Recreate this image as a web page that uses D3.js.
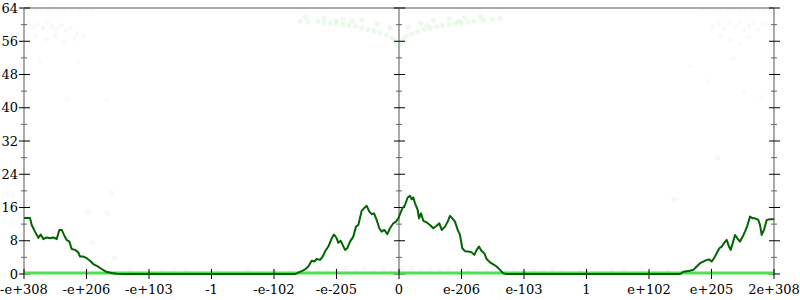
<!DOCTYPE html>
<html>
<head>
<meta charset="utf-8">
<script src="https://cdn.jsdelivr.net/npm/d3@7"></script>
<style>
  body { margin: 0; background: #fff; }
  text { font-family: "DejaVu Serif", serif; font-size: 13px; fill: #000; }
</style>
</head>
<body>
<div id="chart"></div>
<script>
// x positions are in "tick steps" along the ordered doubles axis
var xTickPos = d3.range(-6, 7);
var xTickLabels = ["-e+308", "-e+206", "-e+103", "-1", "-e-102", "-e-205", "0",
                   "e-206", "e-103", "1", "e+102", "e+205", "2e+308"];
var yMajor = [0, 8, 16, 24, 32, 40, 48, 56, 64];
var yMinor = [4, 12, 20, 28, 36, 44, 52, 60];

// main curve
var curveX = [-6.0, -5.904, -5.877, -5.824, -5.771, -5.733, -5.691, -5.637, -5.584, -5.531,
  -5.477, -5.435, -5.397, -5.36, -5.317, -5.275, -5.237, -5.184, -5.131, -5.104,
  -5.051, -4.997, -4.944, -4.891, -4.827, -4.757, -4.688, -4.597, -4.517, -4.4,
  -1.664, -1.637, -1.557, -1.504, -1.451, -1.397, -1.355, -1.317, -1.264, -1.221,
  -1.184, -1.131, -1.077, -1.04, -0.997, -0.971, -0.933, -0.901, -0.864, -0.827,
  -0.784, -0.731, -0.688, -0.651, -0.597, -0.56, -0.517, -0.475, -0.437, -0.4,
  -0.357, -0.315, -0.277, -0.235, -0.187, -0.144, -0.091, -0.048, -0.011, 0.053,
  0.096, 0.139, 0.176, 0.203, 0.229, 0.256, 0.299, 0.32, 0.352, 0.389,
  0.443, 0.496, 0.549, 0.603, 0.645, 0.683, 0.736, 0.779, 0.816, 0.853,
  0.896, 0.939, 0.976, 1.013, 1.056, 1.109, 1.163, 1.205, 1.243, 1.28,
  1.323, 1.365, 1.403, 1.456, 1.509, 1.563, 1.616, 1.669, 1.723, 4.5,
  4.549, 4.656, 4.709, 4.763, 4.816, 4.869, 4.923, 4.965, 5.003, 5.04,
  5.083, 5.125, 5.163, 5.2, 5.243, 5.28, 5.307, 5.339, 5.376, 5.413,
  5.456, 5.499, 5.536, 5.573, 5.616, 5.659, 5.696, 5.749, 5.776, 5.803,
  5.84, 5.883, 5.936, 6.0];
var curveY = [13.5, 13.5, 11.8, 10.2, 8.7, 9.5, 8.4, 8.8, 8.6, 8.8,
  8.4, 10.6, 10.6, 9.4, 8.2, 7.8, 6.0, 5.8, 5.2, 4.2,
  4.2, 3.8, 3.2, 2.4, 1.9, 1.2, 0.55, 0.25, 0.05, 0,
  0, 0.15, 0.7, 1.1, 1.8, 3.2, 3.0, 3.6, 3.4, 4.2,
  5.4, 6.6, 8.6, 9.5, 8.6, 7.5, 8.0, 7.0, 5.8, 6.2,
  7.8, 9.0, 11.4, 11.8, 15.2, 15.8, 16.4, 15.0, 14.4, 14.6,
  13.0, 11.0, 10.2, 10.6, 9.6, 11.0, 12.2, 12.6, 13.4, 15.8,
  16.6, 18.4, 18.8, 18.0, 18.4, 17.0, 15.4, 13.4, 14.6, 12.8,
  12.4, 11.8, 11.0, 11.6, 12.2, 10.6, 11.4, 12.6, 14.0, 13.4,
  12.6, 10.6, 9.4, 6.2, 5.5, 5.4, 5.2, 4.6, 5.8, 6.6,
  5.5, 5.0, 3.6, 2.8, 2.3, 1.8, 1.0, 0.15, 0, 0,
  0.55, 0.8, 1.0, 1.8, 2.6, 3.0, 3.4, 3.5, 3.0, 3.8,
  5.0, 6.2, 6.6, 7.4, 8.2, 6.6, 5.8, 7.4, 9.4, 8.6,
  7.8, 9.0, 10.2, 11.6, 13.8, 13.4, 13.4, 13.0, 11.8, 9.4,
  10.6, 13.0, 13.2, 13.2];

// faint scatter cloud [x, y]
var cloudTop = [
  [-5.95,63.6],[-5.88,63.8],[-5.8,63.5],[-5.72,63.7],[-5.62,63.6],[-5.55,63.8],[-5.45,63.5],
  [-5.35,63.7],[-5.25,63.6],[-5.12,63.5],[-5.0,63.7],[-4.9,63.6],
  [-5.92,60.4],[-5.85,59.6],[-5.78,60.1],[-5.7,59.2],[-5.62,60.3],[-5.55,59.5],[-5.48,58.8],
  [-5.4,59.9],[-5.33,58.6],[-5.25,59.3],[-5.15,57.8],[-5.05,57.2],
  [-5.82,57.2],[-5.65,56.4],[-5.5,57.5],[-5.36,55.8],[-5.2,56.6],[-5.74,51.2],[-5.14,51.0],
  [-5.31,42.1],[-4.68,42.0],
  [4.85,63.6],[4.95,63.8],[5.05,63.5],[5.15,63.7],[5.25,63.6],[5.35,63.8],[5.45,63.5],
  [5.55,63.7],[5.65,63.6],[5.75,63.8],[5.85,63.6],[5.95,63.7],
  [5.02,59.6],[5.12,60.2],[5.2,59.0],[5.3,60.4],[5.38,59.3],[5.46,60.6],[5.52,58.7],
  [5.6,59.8],[5.68,60.5],[5.75,58.9],[5.82,59.9],[5.9,60.3],
  [5.14,57.2],[5.3,56.3],[5.45,55.4],[5.6,57.0],[5.35,51.8],[4.66,50.0],[4.95,46.4],
  [5.52,44.0],[5.8,42.5]];
var cloudCenter = [
  [-1.58,60.9],[-1.45,60.7],[-1.3,60.8],[-1.2,60.5],[-1.1,60.4],[-1.0,60.2],[-0.9,60.0],
  [-0.8,59.8],[-0.7,59.6],[-0.6,59.2],[-0.5,58.9],[-0.4,58.5],[-0.3,58.1],[-0.2,57.5],
  [-0.12,56.9],[-0.06,56.2],[-0.02,55.2],
  [-1.5,61.8],[-1.2,61.6],[-0.9,61.4],[-0.6,61.2],[-0.35,60.2],[-0.15,59.3],[-1.0,61.0],
  [-0.75,60.9],
  [0.02,55.4],[0.06,56.4],[0.12,57.2],[0.2,57.8],[0.3,58.3],[0.4,58.8],[0.5,59.2],
  [0.6,59.5],[0.7,59.8],[0.8,60.0],[0.9,60.2],[1.0,60.4],[1.1,60.6],[1.2,60.8],
  [1.35,61.0],[1.5,61.3],[1.62,61.5],
  [0.15,59.4],[0.35,60.4],[0.55,61.0],[0.8,61.4],[1.05,61.7],[1.3,61.9],[0.95,60.9],
  [0.45,59.9]];
var cloudBottom = [
  [-1.75,0.8],[-1.6,1.1],[-1.45,0.6],[-1.3,1.2],[-1.15,0.7],[-1.0,1.0],[-0.85,1.3],
  [-0.7,0.6],[-0.55,1.1],[-0.4,0.8],[-0.25,1.2],[-0.1,0.7],[0.05,1.0],[0.2,1.3],
  [0.35,0.6],[0.5,1.1],[0.65,0.8],[0.8,1.2],[0.95,0.7],[1.1,1.0],[1.25,1.3],[1.4,0.6],
  [1.55,1.1],[1.7,0.8],[1.85,1.2],[2.0,0.7],[2.15,1.0],[2.3,0.8],[2.45,1.1],[2.6,0.7],
  [-4.3,1.0],[-3.8,0.8],[-3.6,1.1],[-3.4,0.9],[-2.9,0.7],[-2.4,1.0],[-2.0,0.8],
  [2.9,0.9],[3.4,1.0],[3.6,0.8],[3.9,1.1],[4.3,0.9],
  [-4.6,19.5],[-4.98,15.0],[-4.67,14.7],[-4.9,7.5],[-4.55,3.8],[4.4,18.0],[5.1,28.0]];

var W = 800, H = 300;
var x = d3.scaleLinear().domain([-6, 6]).range([24, 774]);
var y = d3.scaleLinear().domain([0, 64]).range([274, 8]);

var svg = d3.select("#chart").append("svg")
  .attr("width", W)
  .attr("height", H);

// faint cloud: corners and bottom band lighter, centre arms a bit stronger
function drawCloud(data, r, op) {
  svg.append("g")
    .selectAll("circle")
    .data(data)
    .enter()
    .append("circle")
    .attr("cx", function(d) { return x(d[0]); })
    .attr("cy", function(d) { return y(d[1]); })
    .attr("r", r)
    .style("fill", "#44cc44")
    .style("opacity", op);
}
drawCloud(cloudTop, 2.2, 0.06);
drawCloud(cloudBottom, 2.6, 0.07);
drawCloud(cloudCenter, 2.6, 0.1);

// frame lines
svg.append("line")
  .attr("x1", x(-6)).attr("x2", x(6))
  .attr("y1", y(64)).attr("y2", y(64))
  .style("stroke", "#aaa").style("stroke-width", "2px");

[-6, 0, 6].forEach(function(p) {
  svg.append("line")
    .attr("x1", x(p)).attr("x2", x(p))
    .attr("y1", y(0)).attr("y2", y(64))
    .style("stroke", "#aaa").style("stroke-width", "2px");
});

// y ticks on each vertical line
[-6, 0, 6].forEach(function(p) {
  var cx = x(p);
  svg.append("g").selectAll("line")
    .data(yMajor)
    .enter()
    .append("line")
    .attr("x1", cx - 5).attr("x2", cx + 6)
    .attr("y1", function(d) { return y(d); })
    .attr("y2", function(d) { return y(d); })
    .style("stroke", "#000").style("stroke-width", "1px");
  svg.append("g").selectAll("line")
    .data(yMinor)
    .enter()
    .append("line")
    .attr("x1", cx - 3).attr("x2", cx + 3)
    .attr("y1", function(d) { return y(d); })
    .attr("y2", function(d) { return y(d); })
    .style("stroke", "#666").style("stroke-width", "1px");
});

// y labels
svg.append("g").selectAll("text")
  .data(yMajor)
  .enter()
  .append("text")
  .attr("x", 18)
  .attr("y", function(d) { return y(d); })
  .attr("dy", "0.36em")
  .attr("text-anchor", "end")
  .text(function(d) { return d; });

// zero line
svg.append("line")
  .attr("x1", x(-6)).attr("x2", x(6))
  .attr("y1", y(0) - 1).attr("y2", y(0) - 1)
  .style("stroke", "#4fe04f").style("stroke-width", "3px");

// x ticks
svg.append("g").selectAll("line")
  .data(xTickPos)
  .enter()
  .append("line")
  .attr("x1", function(d) { return x(d); })
  .attr("x2", function(d) { return x(d); })
  .attr("y1", y(0) - 5).attr("y2", y(0) + 5)
  .style("stroke", "#000").style("stroke-width", "1px");

// x labels
svg.append("g").selectAll("text")
  .data(xTickPos)
  .enter()
  .append("text")
  .attr("x", function(d) { return x(d); })
  .attr("y", 294)
  .attr("text-anchor", "middle")
  .text(function(d, i) { return xTickLabels[i]; });

// main curve
var line = d3.line()
  .x(function(d) { return x(d[0]); })
  .y(function(d) { return y(d[1]); });

svg.append("path")
  .datum(d3.zip(curveX, curveY))
  .attr("d", line)
  .style("fill", "none")
  .style("stroke", "#006400")
  .style("stroke-width", "2px")
  .style("stroke-linejoin", "round");
</script>
</body>
</html>
